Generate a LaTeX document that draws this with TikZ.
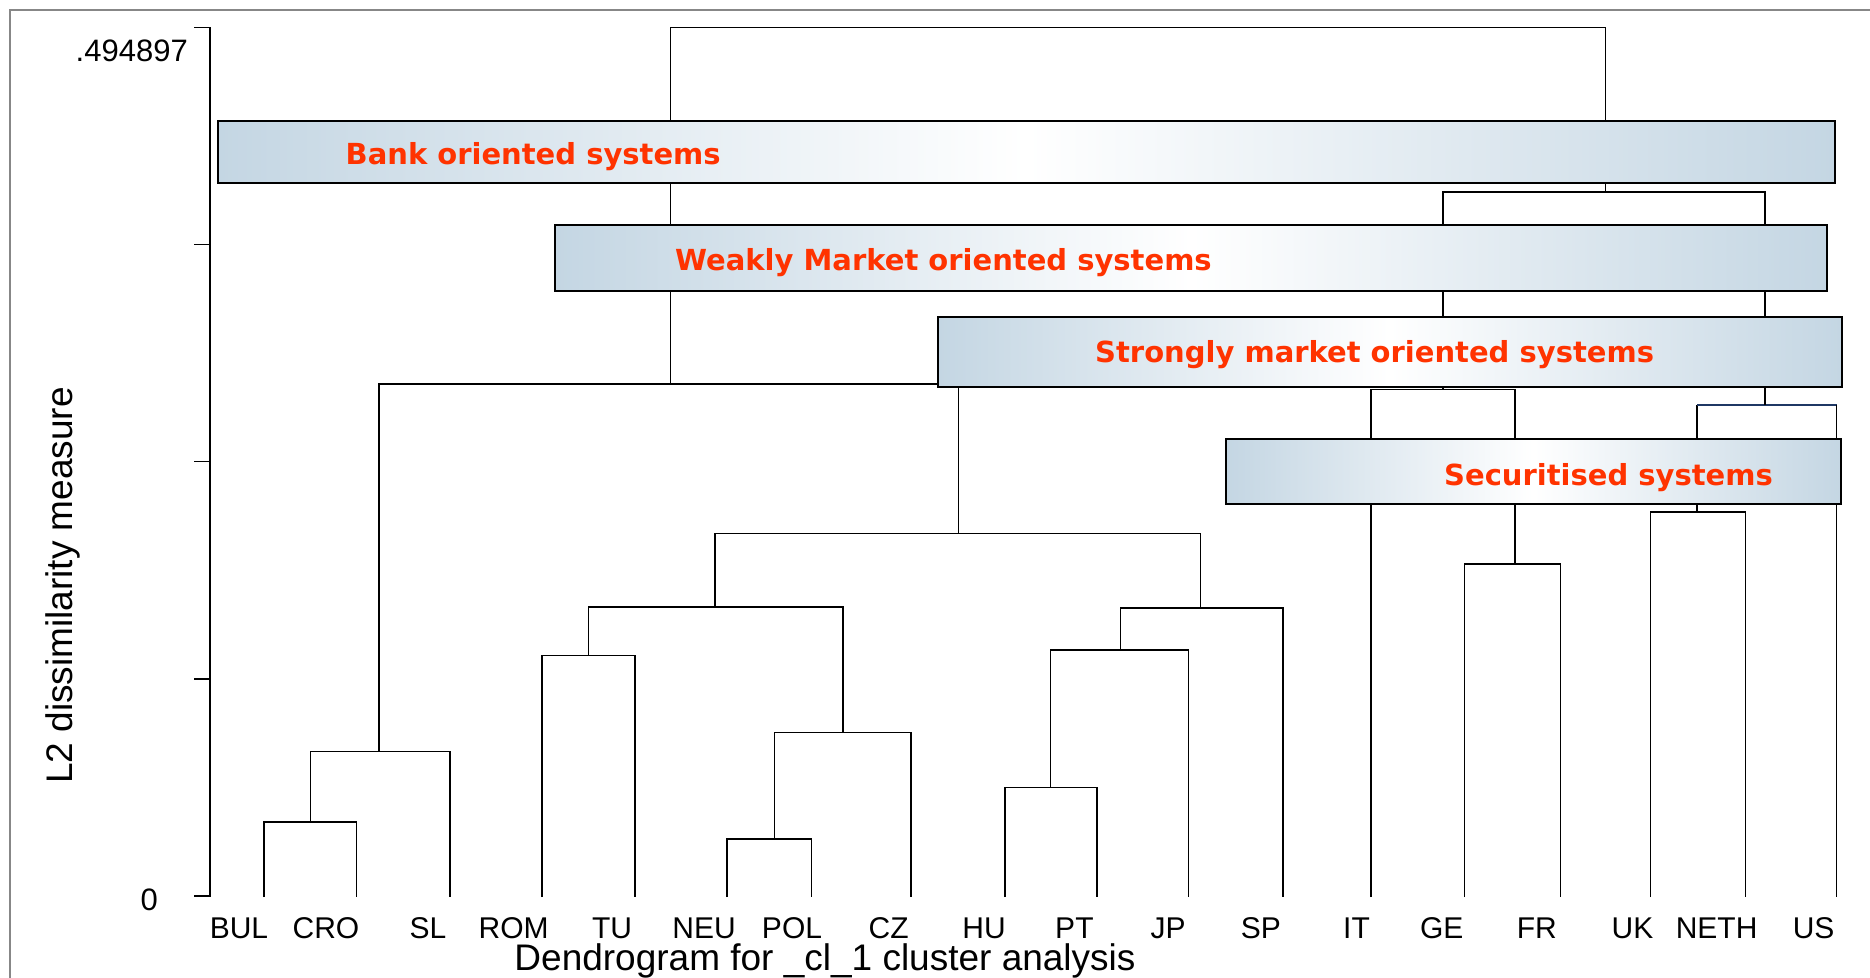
\documentclass[tikz,border=0pt]{standalone}
\usepackage{fontspec}
\setmainfont{Liberation Sans}
\newfontfamily\boxfont{DejaVu Sans}
\definecolor{boxblue}{RGB}{196,214,227}
\definecolor{lblred}{RGB}{255,51,0}
\definecolor{navyline}{RGB}{31,56,100}
\definecolor{framegray}{RGB}{135,135,135}
\begin{document}
\begin{tikzpicture}[x=1pt,y=-1pt,
  dline/.style={line width=1.5pt, line join=miter},
  tickline/.style={line width=1.4pt},
  leaflbl/.style={font=\fontsize{30}{36}\selectfont, anchor=base, inner sep=0pt},
  axlbl/.style={font=\fontsize{31}{37}\selectfont, anchor=base east, inner sep=0pt},
  titlelbl/.style={font=\fontsize{37}{44}\selectfont, inner sep=0pt},
  band/.style={draw=black, line width=2pt, left color=boxblue, right color=boxblue, middle color=white, inner sep=0pt, anchor=north west},
  bandtext/.style={font=\boxfont\bfseries\fontsize{29}{34}\selectfont, text=lblred, inner sep=0pt, anchor=base west},
]
\useasboundingbox (0,0) rectangle (1870,977);
\fill[white] (0,0) rectangle (1870,977);
% frame
\draw[framegray, line width=1.5pt] (10,1000) -- (10,10) -- (1900,10);

% y axis
\coordinate (ax0) at (210,897);
\coordinate (axtop) at (210,27.3);
\draw[tickline] (axtop) -- (ax0);
\foreach \yy in {27.3,244.5,461.7,678.9,896} \draw[tickline] (194,\yy) -- (210,\yy);
\node[axlbl] (ymax) at (188,61.5) {.494897};
\node[axlbl] (ymin) at (158,910) {0};
\node[titlelbl, rotate=90] (ytitle) at (63,585.5) {L2 dissimilarity measure};

% leaves
\coordinate (BUL) at (264.2,897);
\coordinate (CRO) at (356.6,897);
\coordinate (SL) at (450.2,897);
\coordinate (ROM) at (542,897);
\coordinate (TU) at (635,897);
\coordinate (NEU) at (727,897);
\coordinate (POL) at (811.3,897);
\coordinate (CZ) at (911,897);
\coordinate (HU) at (1005,897);
\coordinate (PT) at (1097,897);
\coordinate (JP) at (1188.6,897);
\coordinate (SP) at (1283,897);
\coordinate (IT) at (1370.8,897);
\coordinate (GE) at (1464.4,897);
\coordinate (FR) at (1560.3,897);
\coordinate (UK) at (1650.3,897);
\coordinate (NETH) at (1745.5,897);
\coordinate (US) at (1836.6,897);

% merges
\coordinate (bc) at (310.4,822);
\coordinate (bcs) at (379,751.7);
\coordinate (rt) at (588.5,655.7);
\coordinate (np) at (774.5,839);
\coordinate (npc) at (842.8,732.3);
\coordinate (rtnpc) at (714.8,607);
\coordinate (hp) at (1050.5,787.7);
\coordinate (hpj) at (1120.3,650);
\coordinate (hpjs) at (1200.3,608);
\coordinate (mid) at (958.7,533.7);
\coordinate (leftc) at (670.5,384);
\coordinate (topc) at (1605.4,27.7);
\coordinate (gf) at (1515,564);
\coordinate (igf) at (1443,389.5);
\coordinate (un) at (1697,512);
\coordinate (unu) at (1765,405);
\coordinate (rightc) at (1605.4,192);

\draw[dline] (BUL) |- (bc) -| (CRO);
\draw[dline] (bc) |- (bcs) -| (SL);
\draw[dline] (ROM) |- (rt) -| (TU);
\draw[dline] (NEU) |- (np) -| (POL);
\draw[dline] (np) |- (npc) -| (CZ);
\draw[dline] (rt) |- (rtnpc) -| (npc);
\draw[dline] (HU) |- (hp) -| (PT);
\draw[dline] (hp) |- (hpj) -| (JP);
\draw[dline] (hpj) |- (hpjs) -| (SP);
\draw[dline] (rtnpc) |- (mid) -| (hpjs);
\draw[dline] (bcs) |- (leftc) -| (mid);
\draw[dline] (leftc) |- (topc) -| (rightc);
\draw[dline] (GE) |- (gf) -| (FR);
\draw[dline] (IT) |- (igf) -| (gf);
\draw[dline] (UK) |- (un) -| (NETH);
\draw[dline] (un) -- (un |- unu);
\draw[dline, navyline] (un |- unu) -- (US |- unu);
\draw[dline] (US |- unu) -- (US);
\draw[dline] (igf) |- (rightc) -| (unu);

% bands
\node[band, minimum width=1617.5pt, minimum height=62.3pt] (bankbox) at (216.5,119.7) {};
\node[band, minimum width=1272pt, minimum height=66pt] (weakbox) at (554.4,224) {};
\node[band, minimum width=903.5pt, minimum height=70pt] (strongbox) at (937,316) {};
\node[band, minimum width=615.5pt, minimum height=65.6pt] (secbox) at (1224.8,437.7) {};
\node[bandtext] (banktxt) at (345.5,164.3) {Bank oriented systems};
\node[bandtext] (weaktxt) at (675,270) {Weakly Market oriented systems};
\node[bandtext] (strongtxt) at (1095,362.5) {Strongly market oriented systems};
\node[bandtext] (sectxt) at (1444,485) {Securitised systems};

% leaf labels
\node[leaflbl] (lBUL) at (239,938) {BUL};
\node[leaflbl] (lCRO) at (326,938) {CRO};
\node[leaflbl] (lSL) at (428,938) {SL};
\node[leaflbl] (lROM) at (513.6,938) {ROM};
\node[leaflbl] (lTU) at (612,938) {TU};
\node[leaflbl] (lNEU) at (704,938) {NEU};
\node[leaflbl] (lPOL) at (792,938) {POL};
\node[leaflbl] (lCZ) at (888.7,938) {CZ};
\node[leaflbl] (lHU) at (984,938) {HU};
\node[leaflbl] (lPT) at (1074.4,938) {PT};
\node[leaflbl] (lJP) at (1168,938) {JP};
\node[leaflbl] (lSP) at (1260.8,938) {SP};
\node[leaflbl] (lIT) at (1356.5,938) {IT};
\node[leaflbl] (lGE) at (1441.7,938) {GE};
\node[leaflbl] (lFR) at (1536.8,938) {FR};
\node[leaflbl] (lUK) at (1632.5,938) {UK};
\node[leaflbl] (lNETH) at (1716.6,938) {NETH};
\node[leaflbl] (lUS) at (1813.6,938) {US};

\node[titlelbl, anchor=base] (xtitle) at (825,970) {Dendrogram for \_cl\_1 cluster analysis};
\end{tikzpicture}
\end{document}
